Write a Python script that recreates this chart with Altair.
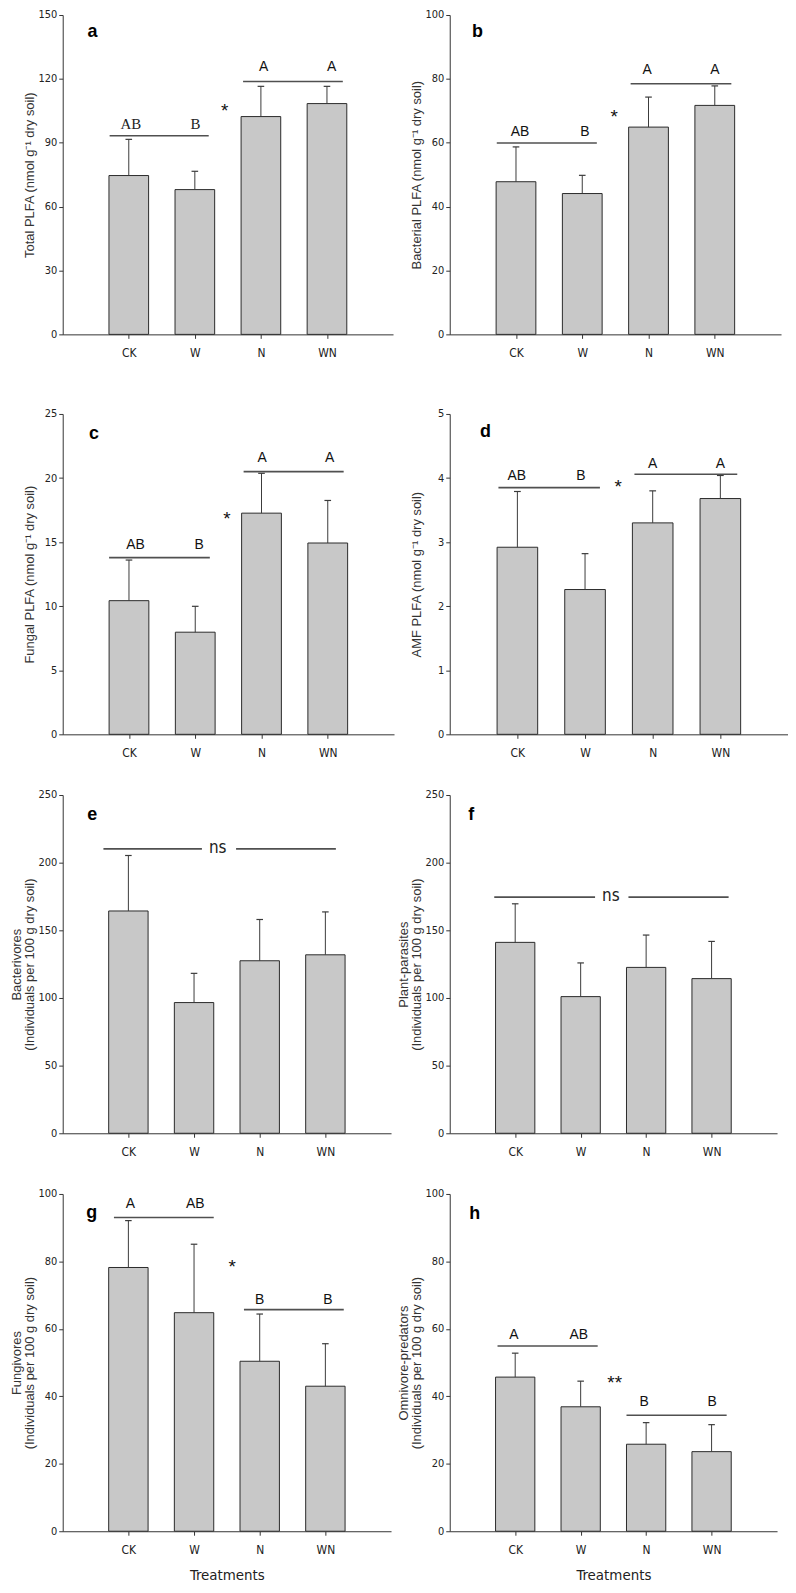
import altair as alt
import pandas as pd

TREATMENTS = ["CK", "W", "N", "WN"]

# ---- values (mean, standard error) ----
a_mean = [74.6, 68.0, 102.3, 108.4]
a_se = [17.0, 8.6, 14.2, 8.1]
b_mean = [47.8, 44.1, 64.9, 71.7]
b_se = [10.9, 5.7, 9.4, 6.1]
c_mean = [10.43, 7.97, 17.26, 14.93]
c_se = [3.17, 2.02, 3.11, 3.32]
d_mean = [2.92, 2.26, 3.30, 3.68]
d_se = [0.87, 0.56, 0.50, 0.36]
e_mean = [164.3, 96.6, 127.5, 131.9]
e_se = [41.0, 21.6, 30.5, 31.7]
f_mean = [141.1, 101.0, 122.6, 114.3]
f_se = [28.5, 24.9, 23.9, 27.5]
g_mean = [78.2, 64.8, 50.4, 43.0]
g_se = [13.9, 20.3, 14.0, 12.6]
h_mean = [45.7, 36.9, 25.8, 23.6]
h_se = [7.1, 7.6, 6.4, 8.0]

# ---- y tick values ----
a_ticks = [0, 30, 60, 90, 120, 150]
b_ticks = [0, 20, 40, 60, 80, 100]
c_ticks = [0, 5, 10, 15, 20, 25]
d_ticks = [0, 1, 2, 3, 4, 5]
e_ticks = [0, 50, 100, 150, 200, 250]
f_ticks = [0, 50, 100, 150, 200, 250]
g_ticks = [0, 20, 40, 60, 80, 100]
h_ticks = [0, 20, 40, 60, 80, 100]

# ---- significance bars: (from, to, level) in treatment-axis units ----
a_bars = [(0.71, 2.21, 93.3), (2.73, 4.24, 118.8)]
b_bars = [(0.71, 2.22, 59.9), (2.73, 4.25, 78.5)]
c_bars = [(0.70, 2.22, 13.79), (2.73, 4.24, 20.5)]
d_bars = [(0.72, 2.22, 3.85), (2.73, 4.25, 4.06)]
e_bars = [(0.62, 2.12, 210.2), (2.64, 4.16, 210.2)]
f_bars = [(0.68, 2.22, 174.5), (2.73, 4.26, 174.5)]
g_bars = [(0.78, 2.30, 93.0), (2.76, 4.28, 65.7)]
h_bars = [(0.73, 2.26, 54.9), (2.70, 4.23, 34.4)]

# ---- significance letters: (text, x, y) ----
a_marks = [("AB", 1.03, 98.7), ("B", 2.01, 98.7), ("A", 3.04, 125.8), ("A", 4.07, 125.8)]
b_marks = [("AB", 1.06, 63.5), ("B", 2.04, 63.5), ("A", 2.98, 82.9), ("A", 4.0, 82.9)]
c_marks = [("AB", 1.10, 14.75), ("B", 2.06, 14.75), ("A", 3.01, 21.6), ("A", 4.03, 21.6)]
d_marks = [("AB", 0.99, 4.03), ("B", 1.94, 4.03), ("A", 3.0, 4.22), ("A", 4.0, 4.22)]
e_marks = []
f_marks = []
g_marks = [("A", 1.03, 96.9), ("AB", 2.02, 96.9), ("B", 3.0, 68.7), ("B", 4.04, 68.7)]
h_marks = [("A", 0.98, 58.3), ("AB", 1.97, 58.3), ("B", 2.97, 38.3), ("B", 4.01, 38.3)]

# ---- stars / ns: (text, x, y) ----
a_stars = [("*", 2.45, 107.3)]
b_stars = [("*", 2.48, 69.5)]
c_stars = [("*", 2.48, 17.2)]
d_stars = [("*", 2.49, 3.94)]
e_ns = [("ns", 2.36, 209.5)]
f_ns = [("ns", 2.46, 173.8)]
g_stars = [("*", 2.58, 79.7)]
h_stars = [("**", 2.52, 45.5)]

# ---- panel letters: (text, x, y) ----
a_tag = ("a", 0.45, 141.0)
b_tag = ("b", 0.42, 94.0)
c_tag = ("c", 0.47, 23.3)
d_tag = ("d", 0.53, 4.69)
e_tag = ("e", 0.45, 233.5)
f_tag = ("f", 0.33, 233.5)
g_tag = ("g", 0.44, 93.7)
h_tag = ("h", 0.38, 93.4)

UNIT_PLFA = "(nmol g\u207b\u00b9 dry soil)"
UNIT_NEM = "(Individuals per 100 g dry soil)"
a_title = [" ", "Total PLFA " + UNIT_PLFA]
b_title = [" ", "Bacterial PLFA " + UNIT_PLFA]
c_title = [" ", "Fungal PLFA " + UNIT_PLFA]
d_title = [" ", "AMF PLFA " + UNIT_PLFA]
e_title = ["Bacterivores", UNIT_NEM]
f_title = ["Plant-parasites", UNIT_NEM]
g_title = ["Fungivores", UNIT_NEM]
h_title = ["Omnivore-predators", UNIT_NEM]
x_title = "Treatments"

NARROW = "Liberation Sans Narrow, Arial Narrow, DejaVu Sans Condensed, Liberation Sans"
SANS = "Liberation Sans, Arial, Helvetica"
SERIF = "Liberation Serif, Times New Roman, serif"
AX = "#333333"

label_expr = "[''," + ",".join("'%s'" % t for t in TREATMENTS) + "][datum.value]"


def make_panel(mean, se, ticks, bars, marks, extra, tag, ytitle, width, height,
               show_xtitle=False, serif_lower=False):
    pos = list(range(1, len(TREATMENTS) + 1))
    df = pd.DataFrame({"t": TREATMENTS, "x": pos, "mean": mean, "se": se})
    df["top"] = df["mean"] + df["se"]
    df["base"] = 0
    df["x1"] = df["x"] - 0.3
    df["x2"] = df["x"] + 0.3
    df["c1"] = df["x"] - 0.05
    df["c2"] = df["x"] + 0.05

    xscale = alt.Scale(domain=[0, 5], nice=False, zero=False)
    yscale = alt.Scale(domain=[ticks[0], ticks[-1]], nice=False)
    xaxis_kw = dict(values=pos, labelExpr=label_expr, tickSize=4, tickColor=AX,
                    domainColor=AX, labelFont=NARROW, labelFontSize=12,
                    labelColor="#222222", labelPadding=9, grid=False)
    if show_xtitle:
        xaxis_kw.update(titleFont=NARROW, titleFontSize=15, titleFontWeight="normal",
                        titleColor="#222222", titlePadding=13)
    xaxis = alt.Axis(**xaxis_kw)
    yaxis = alt.Axis(values=ticks, tickSize=4, tickColor=AX, domainColor=AX,
                     labelFont=NARROW, labelFontSize=11, labelColor="#222222",
                     labelPadding=2, grid=False,
                     titleFont=SANS, titleFontSize=13, titleFontWeight="normal",
                     titleColor="#333333", titleX=-39, titleLineHeight=12.5,
                     titleBaseline="bottom")
    xt = x_title if show_xtitle else None

    def X(f):
        return alt.X(f, type="quantitative", scale=xscale, axis=xaxis, title=xt)

    def Y(f):
        return alt.Y(f, type="quantitative", scale=yscale, axis=yaxis, title=ytitle)

    bar = alt.Chart(df).mark_bar(fill="#c8c8c8", stroke="#2a2a2a", strokeWidth=1).encode(
        x=X("x1"), x2="x2", y=Y("mean"), y2="base")
    err = alt.Chart(df).mark_rule(color="#3a3a3a", strokeWidth=1).encode(
        x=X("x"), y=Y("mean"), y2="top")
    cap = alt.Chart(df).mark_rule(color="#3a3a3a", strokeWidth=1.2).encode(
        x=X("c1"), x2="c2", y=Y("top"))

    bdf = pd.DataFrame(bars, columns=["b1", "b2", "lev"])
    sig = alt.Chart(bdf).mark_rule(color="#505050", strokeWidth=1.6).encode(
        x=X("b1"), x2="b2", y=Y("lev"))

    layers = [bar, err, cap, sig]

    if marks:
        mdf = pd.DataFrame(marks, columns=["lab", "mx", "my"])
        if serif_lower:
            lower = mdf.iloc[:2]
            upper = mdf.iloc[2:]
            layers.append(alt.Chart(lower).mark_text(
                font=SERIF, fontSize=15, color="#222222", baseline="middle").encode(
                x=X("mx"), y=Y("my"), text="lab"))
            layers.append(alt.Chart(upper).mark_text(
                font=SANS, fontSize=14, color="#111111", baseline="middle").encode(
                x=X("mx"), y=Y("my"), text="lab"))
        else:
            layers.append(alt.Chart(mdf).mark_text(
                font=SANS, fontSize=14, color="#111111", baseline="middle").encode(
                x=X("mx"), y=Y("my"), text="lab"))

    sdf = pd.DataFrame(extra, columns=["lab", "sx", "sy"])
    if sdf["lab"].iloc[0] == "ns":
        layers.append(alt.Chart(sdf).mark_text(
            font=NARROW, fontSize=17, color="#222222", baseline="middle", dy=-2).encode(
            x=X("sx"), y=Y("sy"), text="lab"))
    else:
        layers.append(alt.Chart(sdf).mark_text(
            font=SANS, fontSize=19, color="#111111", baseline="middle", dy=5).encode(
            x=X("sx"), y=Y("sy"), text="lab"))

    tdf = pd.DataFrame([tag], columns=["lab", "tx", "ty"])
    layers.append(alt.Chart(tdf).mark_text(
        font=SANS, fontSize=18, fontWeight="bold", color="#000000", baseline="middle", dy=-2).encode(
        x=X("tx"), y=Y("ty"), text="lab"))

    return alt.layer(*layers).properties(width=width, height=height)


pa = make_panel(a_mean, a_se, a_ticks, a_bars, a_marks, a_stars, a_tag, a_title, 332, 321, serif_lower=True)
pb = make_panel(b_mean, b_se, b_ticks, b_bars, b_marks, b_stars, b_tag, b_title, 333, 321)
pc = make_panel(c_mean, c_se, c_ticks, c_bars, c_marks, c_stars, c_tag, c_title, 333, 322)
pd_ = make_panel(d_mean, d_se, d_ticks, d_bars, d_marks, d_stars, d_tag, d_title, 340, 322)
pe = make_panel(e_mean, e_se, e_ticks, e_bars, e_marks, e_ns, e_tag, e_title, 330, 340)
pf = make_panel(f_mean, f_se, f_ticks, f_bars, f_marks, f_ns, f_tag, f_title, 329, 340)
pg = make_panel(g_mean, g_se, g_ticks, g_bars, g_marks, g_stars, g_tag, g_title, 330, 339, show_xtitle=True)
ph = make_panel(h_mean, h_se, h_ticks, h_bars, h_marks, h_stars, h_tag, h_title, 329, 339, show_xtitle=True)

left = alt.vconcat(pa, alt.vconcat(pc, pe, pg, spacing=31), spacing=50)
right = alt.vconcat(pb, alt.vconcat(pd_, pf, ph, spacing=31), spacing=50)

chart = alt.hconcat(left, right, spacing=4).properties(
    padding={"left": 3, "top": -3, "right": 0, "bottom": 0},
    background="white",
).configure_view(stroke=None)

chart.save("out.html", embed_options={"renderer": "svg", "actions": False})
